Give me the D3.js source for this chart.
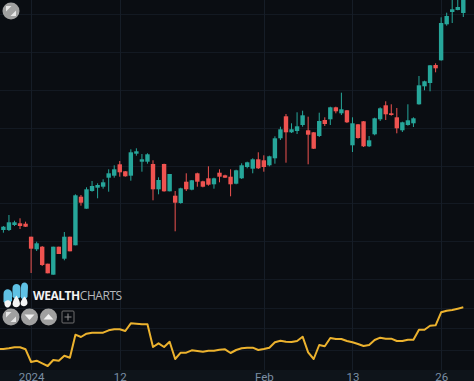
<!DOCTYPE html>
<html>
<head>
<meta charset="utf-8">
<script src="https://cdn.jsdelivr.net/npm/d3@7"></script>
<style>
  html, body { margin: 0; padding: 0; background: #0a0d12; overflow: hidden; }
  text { font-family: Roboto, sans-serif; }
</style>
</head>
<body>
<div id="chart"></div>
<script>
/* CONSTANTS AND DATA */
const width = 474, height = 381;
const upColor = "#26a69a", downColor = "#ef5350", lineColor = "#ecb22e";

const opens = [170,170,175,176.7,176.3,163.3,150.7,153.3,136.3,125.3,153.3,141.3,163.3,154.7,203.3,191.3,209,212.3,213.3,222.3,224.3,235.7,228.7,224.3,246.3,238.3,238.3,236,210.7,236,208.7,204.3,197,218.3,210.3,226.7,218.7,221.7,215.7,227.3,224.7,223.3,216.3,221.7,233,231.3,240.7,239.7,234.7,241.7,261.7,283.7,267.7,269,275,269.7,267.7,264,280,280.7,292.7,286.7,289.7,254.7,275.7,278.7,253.7,265.7,280.7,294.7,286.7,282.7,269.7,275,276.7,295.7,313.7,317,335,339.7,375.7,388,390,387];
const highs = [174,185,179.3,181.7,178.3,163.3,158.3,154,136.3,153.3,153.3,168,163.3,205.7,205,212.7,219,216.7,220.7,230.7,234.7,239,229,250.7,251.7,246,246.7,239.7,222.7,236.3,226,209,212.3,226.7,220,227.3,219.3,233.7,222.3,230.7,225.3,230.7,230.3,236.7,238.3,241.7,247.7,244.7,244.3,263.7,273.3,286,276.7,287.7,289.3,283.3,268,287.3,282.7,293.3,293.3,307.3,290,282.7,276,279,264,282.3,292.7,298.7,295.7,292,278.3,295.7,282.7,324,319.3,335,336.7,382.7,387.3,403,403,404];
const lows = [167.3,169,174,171,173,127,149,134,126.7,125.3,146,139.7,148.7,154.7,194.3,191.3,208.3,201.7,211.3,208.3,222.3,223.3,223.3,219.3,244.3,228.3,236.3,199.7,205.7,208.3,208.7,168.7,196.3,209,209.7,213.3,212.7,214.3,211.3,217.7,222,203.7,215.7,221,231.7,226.7,231,228.3,233.7,236.3,260,237.3,267,266,273.3,235.7,251,263,274,275,286.7,285,277,248,261.3,253,253,264.7,279,280,284.3,266.7,268,274.3,273,295.3,309.7,308.7,327.7,339.3,374.3,377,389.7,383];
const closes = [173.3,177.7,177.7,174,173.3,151.3,156.7,135,126.7,153.3,146,163.3,148.7,204.7,197.3,210.7,214,215,217.7,226.7,230.7,227.7,223.7,247.7,248.7,240.7,245.7,210.7,220,208.7,226,197.3,211.7,210.7,219.7,218.3,213.3,215.3,221.7,223.3,222.3,215.7,229.7,234.7,237.7,240.7,231.7,233,243.7,261.7,270.7,267.7,270.7,273.7,284.7,265.3,251.3,279,276,292.7,288.7,290.7,277.7,276.7,262,253.7,259.7,281.7,291.7,285.7,285,271.7,277.7,279.7,281.7,314.7,318.7,334.7,331.7,377,384,390.7,393,404];
// one extra leading value: the line comes in from off the left edge
const oscillator = [50.8,51,51.7,52.7,52.7,50.7,38,39.3,36.7,34,40,39.3,44.3,42.3,65.3,63,66.3,67.3,67.3,67.3,69.7,70.7,70.7,69,76.7,76.3,75.7,75.7,53,56.7,53,58.3,41,47.3,47.3,49.7,49,48.3,49.3,49.3,50.3,50.7,47,50,51.7,52.3,52.3,50,51,52.3,57.7,59.3,58.3,58,59,63.3,47.7,41,55,53.7,62,61,61,59,57.7,56,54,55,60,62.3,61.3,61.3,59,59,60.3,60.3,70.3,70.3,74.3,74.7,87.7,89.3,90,91.3,92.7];

const tickIndexes = [5, 21, 47, 63, 79];
const tickLabels = ["2024", "12", "Feb", "13", "26"];
const priceGrid = [385.7, 347.7, 309.7, 271.7, 233.7, 196.7, 158.7, 120.7];
const oscGrid = [92.3, 71.7, 49.7];

/* SCALES */
const xScale = d3.scaleLinear().domain([0, 83]).range([3.4, 463.3]);
const yPrice = d3.scaleLinear().domain([120, 400]).range([280, 0]);
const yOsc = d3.scaleLinear().domain([30, 100]).range([370, 300]);

const svg = d3.select("#chart").append("svg")
  .attr("width", width)
  .attr("height", height)
  .style("display", "block");

svg.append("rect").attr("width", width).attr("height", height).attr("fill", "#0a0d12");
svg.append("rect").attr("y", 370).attr("width", width).attr("height", 11).attr("fill", "#0e141a");

/* GRID */
const gridColor = "#131922";
svg.append("g").selectAll("line").data(priceGrid).join("line")
  .attr("x1", 0).attr("x2", width)
  .attr("y1", d => Math.round(yPrice(d)) + 0.5)
  .attr("y2", d => Math.round(yPrice(d)) + 0.5)
  .attr("stroke", gridColor);
svg.append("g").selectAll("line").data(oscGrid).join("line")
  .attr("x1", 0).attr("x2", width)
  .attr("y1", d => Math.round(yOsc(d)) + 0.5)
  .attr("y2", d => Math.round(yOsc(d)) + 0.5)
  .attr("stroke", gridColor);
svg.append("g").selectAll("line").data(tickIndexes).join("line")
  .attr("x1", d => Math.round(xScale(d)) + 0.5)
  .attr("x2", d => Math.round(xScale(d)) + 0.5)
  .attr("y1", 0).attr("y2", 370)
  .attr("stroke", "#161d27");

/* CANDLES */
const candles = d3.range(opens.length);
const candleColor = i => closes[i] >= opens[i] ? upColor : downColor;

const plot = svg.append("g");
plot.append("g").selectAll("line").data(candles).join("line")
  .attr("x1", i => xScale(i))
  .attr("x2", i => xScale(i))
  .attr("y1", i => yPrice(highs[i]))
  .attr("y2", i => yPrice(lows[i]))
  .attr("stroke", candleColor)
  .attr("stroke-width", 1);
plot.append("g").selectAll("rect").data(candles).join("rect")
  .attr("x", i => xScale(i) - 2.2)
  .attr("width", 4.4)
  .attr("y", i => yPrice(Math.max(opens[i], closes[i])))
  .attr("height", i => Math.max(1, Math.abs(yPrice(opens[i]) - yPrice(closes[i]))))
  .attr("fill", candleColor);

/* OSCILLATOR LINE */
const line = d3.line().x((d, i) => xScale(i - 1)).y(d => yOsc(d));
svg.append("path").datum(oscillator)
  .attr("d", line)
  .attr("fill", "none")
  .attr("stroke", lineColor)
  .attr("stroke-width", 2)
  .attr("stroke-linejoin", "round");

/* TIME AXIS */
const axis = d3.axisBottom(xScale)
  .tickValues(tickIndexes)
  .tickFormat((d, i) => tickLabels[i])
  .tickSize(0)
  .tickPadding(0);
const axisG = svg.append("g").attr("transform", "translate(0,370)").call(axis);
axisG.select(".domain").remove();
axisG.selectAll("text")
  .attr("y", 2.4)
  .attr("font-size", 11.5)
  .attr("fill", "#7a8ea3")
  .style("font-family", "Roboto, sans-serif");

/* ROUND BUTTONS */
function roundButton(cx, cy, kind) {
  const g = svg.append("g").attr("transform", `translate(${cx},${cy})`);
  g.append("circle").attr("r", 8.5).attr("fill", "#a0a0a0");
  if (kind === "expand") {
    g.append("path").attr("d", "M-5,-5 L0.5,-5 L-5,0.5 Z M5,5 L-0.5,5 L5,-0.5 Z").attr("fill", "#e6e6e6");
  } else if (kind === "down") {
    g.append("path").attr("d", "M-5,-2.5 L5,-2.5 L0,3 Z").attr("fill", "#f2f2f2");
  } else {
    g.append("path").attr("d", "M-5,2.5 L5,2.5 L0,-3 Z").attr("fill", "#f2f2f2");
  }
}
roundButton(11, 11, "expand");
roundButton(11, 317, "expand");
roundButton(29.5, 317, "down");
roundButton(48.5, 317, "up");

const plus = svg.append("g").attr("transform", "translate(68,317)");
plus.append("rect").attr("x", -6).attr("y", -6).attr("width", 12).attr("height", 12).attr("rx", 1)
  .attr("fill", "none").attr("stroke", "#6f6f6f");
plus.append("path").attr("d", "M-3.5,0 H3.5 M0,-3.5 V3.5").attr("stroke", "#8a8a8a").attr("stroke-width", 1.1);

/* LOGO */
const logo = svg.append("g");
logo.append("path")
  .attr("d", "M3.5,302 L3.5,294 C3.5,288 11,288 12,293 L12,301 C9,304 6,304 3.5,302 Z M12.5,297 L12.5,288 C12.5,282.5 20.5,282.5 20.5,288 L20.5,297 C18,299 15,299 12.5,297 Z M21,298 L21,287 C21,280.5 28.5,281.5 28,287 L27.5,297 C25,300 23,300 21,298 Z")
  .attr("fill", "#5fc1e4");
logo.append("path")
  .attr("d", "M4.5,302 C6.5,299.5 9.5,299.5 11,302 C11.5,305 9.5,307.5 7.5,307.5 C5.5,307.5 4,305 4.5,302 Z M12.5,304 C13,300 15,297 16.5,295.5 C18,298 20,301 20,304 C20,308 13,308.5 12.5,304 Z M20.5,303 C21,300 23,298 24.5,296.5 C26,298 27.5,300 27.5,303 C27.5,307 20.5,307.5 20.5,303 Z")
  .attr("fill", "#f4f4f4");
const logoText = svg.append("text").attr("x", 33).attr("y", 299.5)
  .attr("font-size", 12).attr("letter-spacing", -0.45).style("font-family", "'Open Sans', sans-serif");
logoText.append("tspan").attr("font-weight", 700).attr("fill", "#f2f2f2").text("WEALTH");
logoText.append("tspan").attr("font-weight", 400).attr("fill", "#b5b8bb").text("CHARTS");
</script>
</body>
</html>
